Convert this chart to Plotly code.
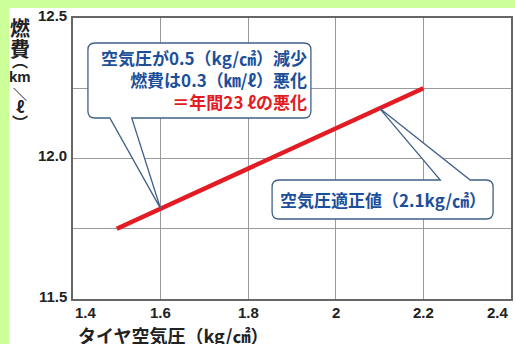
import plotly.graph_objects as go

# ---- data ----
pressure = [1.5, 2.2]          # tyre pressure (kg/cm2)
economy = [11.75, 12.25]       # fuel economy (km/l)
x_ticks = [1.4, 1.6, 1.8, 2.0, 2.2, 2.4]
x_tick_labels = ["1.4", "1.6", "1.8", "2", "2.2", "2.4"]
y_ticks = [11.5, 12.0, 12.5]
y_tick_labels = ["11.5", "12.0", "12.5"]
y_grid = [11.5, 11.75, 12.0, 12.25, 12.5]
low_point = 1.6     # 0.5 below optimum
optimum = 2.1       # optimal pressure

# ---- geometry helpers (plot area in pixels) ----
W, H = 515, 344
L, R, T, B = 73, 2, 18, 45
XR = (1.4, 2.4)
YR = (11.5, 12.5)
PW = W - L - R
PH = H - T - B

def X(px):
    return XR[0] + (px - L) / PW * (XR[1] - XR[0])

def Y(py):
    return YR[1] - (py - T) / PH * (YR[1] - YR[0])

def PX(px):
    return (px - L) / PW

def PY(py):
    return (H - B - py) / PH

def line_y(x):
    return economy[0] + (x - pressure[0]) * (economy[1] - economy[0]) / (pressure[1] - pressure[0])

def pt(px, py):
    return f"{X(px):.5f},{Y(py):.5f}"

def bubble(x0, y0, x1, y1, r, tail_side, ta, tb, tip):
    tipS = f"{tip[0]:.5f},{tip[1]:.5f}"
    p = f"M {pt(x0 + r, y0)} "
    if tail_side == "top":
        p += f"L {pt(ta, y0)} L {tipS} L {pt(tb, y0)} "
    p += f"L {pt(x1 - r, y0)} Q {pt(x1, y0)} {pt(x1, y0 + r)} "
    p += f"L {pt(x1, y1 - r)} Q {pt(x1, y1)} {pt(x1 - r, y1)} "
    if tail_side == "bottom":
        p += f"L {pt(tb, y1)} L {tipS} L {pt(ta, y1)} "
    p += f"L {pt(x0 + r, y1)} Q {pt(x0, y1)} {pt(x0, y1 - r)} "
    p += f"L {pt(x0, y0 + r)} Q {pt(x0, y0)} {pt(x0 + r, y0)} Z"
    return p

GREEN = "#ccff99"
BLUE = "#1c4f9a"
RED = "#e31b23"
BORDER = "#3f6088"
DARK = "#222222"
JP = "Noto Sans CJK JP"
LAT = "Liberation Sans"

fig = go.Figure()
fig.add_trace(go.Scatter(
    x=pressure, y=economy, mode="lines",
    line=dict(color=RED, width=4.5),
    hoverinfo="skip", showlegend=False,
))

shapes = []
# green frame strips (top and left)
shapes.append(dict(type="rect", xref="paper", yref="paper",
                   x0=PX(0), x1=PX(W + 2), y0=PY(8), y1=PY(-2),
                   fillcolor=GREEN, line=dict(width=0), layer="above"))
shapes.append(dict(type="rect", xref="paper", yref="paper",
                   x0=PX(-2), x1=PX(9), y0=PY(H + 2), y1=PY(-2),
                   fillcolor=GREEN, line=dict(width=0), layer="above"))
# callout bubbles
shapes.append(dict(type="path",
                   path=bubble(88, 43, 312, 118, 7, "bottom", 110, 132,
                               (low_point, line_y(low_point))),
                   fillcolor="white", line=dict(color=BORDER, width=1.3)))
shapes.append(dict(type="path",
                   path=bubble(273, 180, 495, 219, 7, "top", 442, 472,
                               (optimum, line_y(optimum))),
                   fillcolor="white", line=dict(color=BORDER, width=1.3)))

ann = []
tick_font = dict(family=LAT, size=15, color=DARK, weight="bold")
for v, t in zip(y_ticks, y_tick_labels):
    ann.append(dict(x=0, xref="paper", y=v, yref="y", text=t, showarrow=False,
                    xanchor="right", yanchor="middle", xshift=-4, yshift=3,
                    font=tick_font))
for i, (v, t) in enumerate(zip(x_ticks, x_tick_labels)):
    anchor = "left" if i == 0 else ("right" if i == len(x_ticks) - 1 else "center")
    ann.append(dict(x=v, xref="x", y=0, yref="paper", text=t, showarrow=False,
                    xanchor=anchor, yanchor="middle", yshift=-13,
                    font=tick_font))

# y-axis title, stacked vertically: (text, y px, size, family)
ytitle = [("燃", 27, 20, JP), ("費", 48, 20, JP),
          ("︵", 60, 16, JP), ("km", 76, 15, LAT),
          ("＼", 93, 14, JP), ("ℓ", 106, 16, JP),
          ("︶", 122, 16, JP)]
for ch, py, sz, fam in ytitle:
    ann.append(dict(x=PX(20), xref="paper", y=PY(py), yref="paper", text=ch,
                    showarrow=False, xanchor="center", yanchor="middle",
                    font=dict(family=fam, size=sz, color=DARK, weight="bold")))

# x-axis title
ann.append(dict(x=PX(76), xref="paper", y=PY(335), yref="paper",
                text="タイヤ空気圧（kg/㎠）",
                showarrow=False, xanchor="left", yanchor="middle",
                font=dict(family=JP, size=18, color=DARK, weight="bold")))

# bubble texts
ann.append(dict(x=PX(310), xref="paper", y=PY(80), yref="paper",
                text="空気圧が0.5（kg/㎠）減少<br>燃費は0.3（㎞/ℓ）悪化<br>"
                     f"<span style='color:{RED}'>＝年間23 ℓの悪化</span>",
                showarrow=False, xanchor="right", yanchor="middle", align="right",
                font=dict(family=JP, size=17, color=BLUE, weight="bold")))
ann.append(dict(x=PX(384), xref="paper", y=PY(199), yref="paper",
                text="空気圧適正値（2.1kg/㎠）",
                showarrow=False, xanchor="center", yanchor="middle",
                font=dict(family=JP, size=17, color=BLUE, weight="bold")))

fig.update_layout(
    width=W, height=H,
    margin=dict(l=L, r=R, t=T, b=B, pad=0),
    paper_bgcolor="white", plot_bgcolor="white",
    shapes=shapes, annotations=ann,
    showlegend=False,
)
fig.update_xaxes(range=list(XR), tickvals=x_ticks, showticklabels=False,
                 showgrid=True, gridcolor="#9a9a9a", gridwidth=1,
                 showline=True, linecolor="#666666", linewidth=2, mirror=True,
                 zeroline=False, ticks="", fixedrange=True)
fig.update_yaxes(range=list(YR), tickvals=y_grid, showticklabels=False,
                 showgrid=True, gridcolor="#9a9a9a", gridwidth=1,
                 showline=True, linecolor="#666666", linewidth=2, mirror=True,
                 zeroline=False, ticks="", fixedrange=True)

fig.write_html("out.html", config={"displayModeBar": False})
